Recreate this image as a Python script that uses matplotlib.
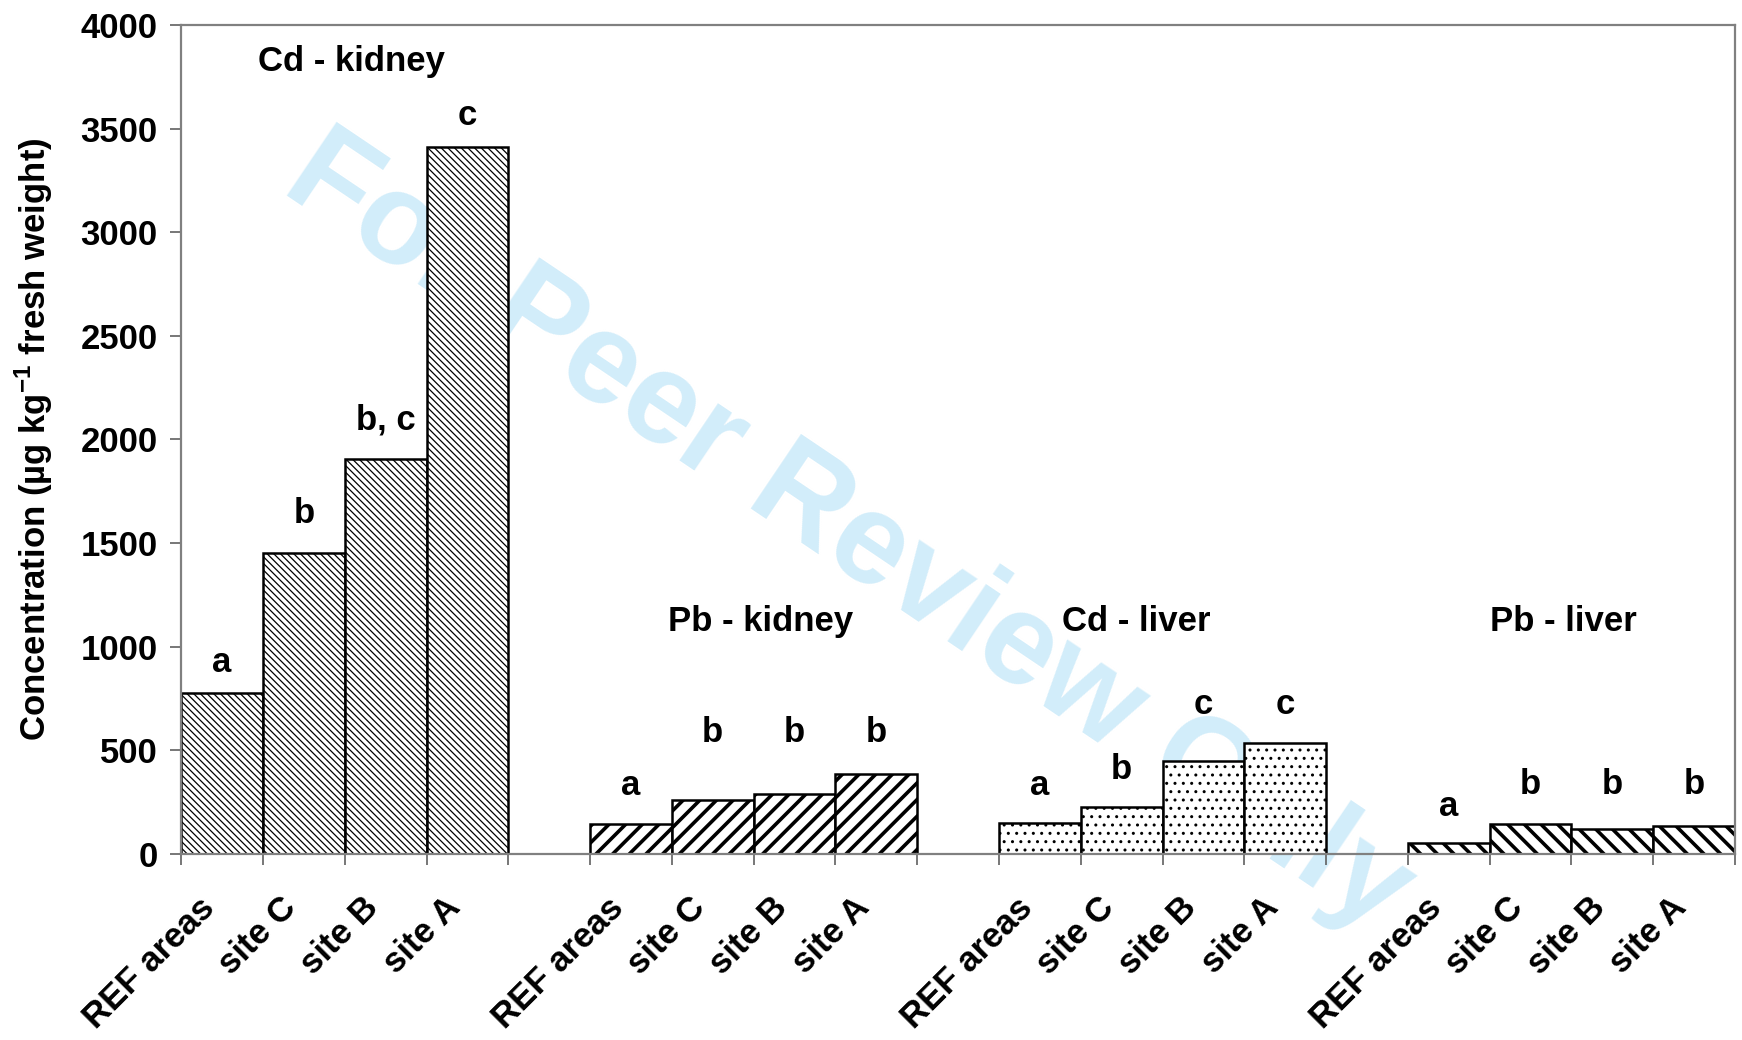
import numpy as np
import matplotlib
matplotlib.use("Agg")
import matplotlib.pyplot as plt
from matplotlib.transforms import ScaledTranslation

plt.rcParams['font.family'] = ['Liberation Sans', 'DejaVu Sans']
plt.rcParams['font.weight'] = 'bold'
plt.rcParams['mathtext.fontset'] = 'custom'
plt.rcParams['mathtext.rm'] = 'Liberation Sans'
plt.rcParams['mathtext.bf'] = 'Liberation Sans:bold'

# data
sites = ["REF areas", "site C", "site B", "site A"]
groups = ["Cd - kidney", "Pb - kidney", "Cd - liver", "Pb - liver"]
cd_kidney = [775, 1450, 1905, 3410]
pb_kidney = [145, 261, 288, 383]
cd_liver = [151, 226, 448, 533]
pb_liver = [53, 143, 120, 132]
values = [cd_kidney, pb_kidney, cd_liver, pb_liver]

# significance letters and the height they sit at
letters = [["a", "b", "b, c", "c"],
           ["a", "b", "b", "b"],
           ["a", "b", "c", "c"],
           ["a", "b", "b", "b"]]
letter_y = [[921, 1644, 2094, 3561],
            [332, 584, 584, 584],
            [332, 407, 723, 723],
            [230, 337, 337, 337]]

title_x = [2.08, 7.09, 11.68, 16.9]
title_y = [3823, 1119, 1119, 1119]

hatches = ['\\\\\\\\\\', '//', '..', '\\\\']
hatch_lw = [0.9, 2.6, 1.0, 2.6]

fig = plt.figure(figsize=(17.42, 10.4), dpi=100)
ax = fig.add_axes([0.104, 0.179, 0.892, 0.797])

# watermark behind everything
ax.text(0.487, 0.487, "For Peer Review Only", transform=fig.transFigure,
        rotation=-34, fontsize=93, color='#d2edfa', ha='center', va='center',
        fontweight='bold', zorder=0)

centers = []
for g in range(4):
    x = np.arange(4) + g * 5 + 0.5
    centers.extend(x)
    with plt.rc_context({'hatch.linewidth': hatch_lw[g]}):
        bars = ax.bar(x, values[g], width=1.0, facecolor='white', edgecolor='black',
                      linewidth=1.8, hatch=hatches[g], zorder=2)
    for b in bars:
        if hasattr(b, 'set_hatch_linewidth'):
            b.set_hatch_linewidth(hatch_lw[g])
    for i in range(4):
        ax.text(x[i], letter_y[g][i], letters[g][i], ha='center', va='center',
                fontsize=25, zorder=3)
    ax.text(title_x[g], title_y[g], groups[g], ha='center', va='center',
            fontsize=25, zorder=3)

ax.set_xlim(0, 19)
ax.set_ylim(0, 4000)
ax.set_yticks(np.arange(0, 4001, 500))
ax.set_xticks(centers)
ax.set_xticklabels(sites * 4, rotation=45, ha='right', rotation_mode='anchor')
ax.set_xticks(np.arange(0, 20), minor=True)
ax.tick_params(axis='x', which='major', length=0, pad=16, labelsize=25)
ax.tick_params(axis='x', which='minor', length=8, width=1.2, color='#606060')
ax.tick_params(axis='y', length=8, width=1.2, color='#606060', labelsize=25, pad=9)

shift = ScaledTranslation(-0.24, -0.15, fig.dpi_scale_trans)
for lab in ax.get_xticklabels():
    lab.set_transform(lab.get_transform() + shift)

for s in ax.spines.values():
    s.set_color('#808080')
    s.set_linewidth(1.6)
    s.set_zorder(4)

ax.set_ylabel(r"Concentration (µg kg$^{-1}$ fresh weight)", fontsize=25,
              fontweight='bold', labelpad=18)

fig.savefig("out.png", dpi=100)
